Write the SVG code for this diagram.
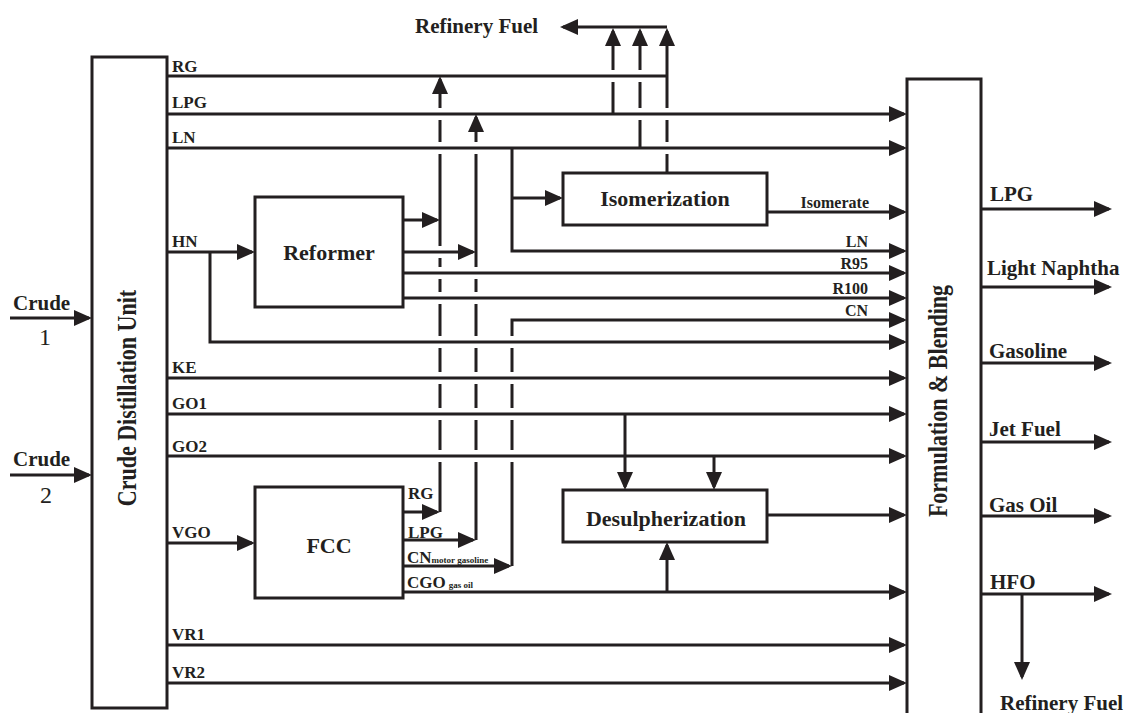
<svg xmlns="http://www.w3.org/2000/svg" width="1143" height="713" viewBox="0 0 1143 713">
<style>
.box{fill:#fff;stroke:#231f20;stroke-width:3}
.ln{fill:none;stroke:#231f20;stroke-width:3}
.a{marker-end:url(#ah)}
text{font-family:"Liberation Serif","Times New Roman",serif;font-weight:bold;fill:#231f20}
.nl{font-size:22px;text-anchor:middle}
.sl{font-size:17px}
.ol{font-size:21px}
.rl{font-size:16px;text-anchor:end}
.num{font-weight:normal;font-size:24px;text-anchor:middle}
</style>
<defs>
<marker id="ah" markerUnits="userSpaceOnUse" markerWidth="18" markerHeight="16" refX="15" refY="8" orient="auto">
<path d="M0,0 L18,8 L0,16 z" fill="#231f20"/>
</marker>
</defs>

<g id="connectors">
<path class="ln a" d="M10,318 H89"/>
<path class="ln a" d="M10,475 H89"/>
<path class="ln" d="M167,76 H667"/>
<path class="ln a" d="M167,114 H904"/>
<path class="ln a" d="M167,148 H904"/>
<path class="ln a" d="M167,252 H252"/>
<path class="ln a" d="M210,252 V342 H904"/>
<path class="ln a" d="M167,378 H904"/>
<path class="ln a" d="M167,414 H904"/>
<path class="ln a" d="M167,456 H904"/>
<path class="ln a" d="M167,543 H252"/>
<path class="ln a" d="M167,645 H904"/>
<path class="ln a" d="M167,683 H904"/>
<path class="ln a" d="M512,148 V251 H904"/>
<path class="ln a" d="M512,198 H560"/>
<path class="ln a" d="M767,212 H904"/>
<path class="ln a" d="M667,27 H563"/>
<path class="ln a" d="M613,114 V82 M613,70 V31"/>
<path class="ln a" d="M640,148 V120 M640,108 V82 M640,70 V31"/>
<path class="ln a" d="M667,173 V154 M667,142 V120 M667,108 V31"/>
<path class="ln a" d="M403,220 H437"/>
<path class="ln a" d="M403,252 H473"/>
<path class="ln a" d="M403,273 H904"/>
<path class="ln a" d="M403,298 H904"/>
<path class="ln a" d="M403,512 H437"/>
<path class="ln a" d="M403,540 H473"/>
<path class="ln a" d="M403,566 H509"/>
<path class="ln a" d="M403,592 H904"/>
<path class="ln a" d="M440,512 V462 M440,450 V420 M440,408 V384 M440,372 V348 M440,336 V304 M440,292 V279 M440,267 V258 M440,246 V154 M440,142 V120 M440,108 V79"/>
<path class="ln a" d="M476,540 V462 M476,450 V420 M476,408 V384 M476,372 V348 M476,336 V304 M476,292 V279 M476,267 V154 M476,142 V117"/>
<path class="ln a" d="M512,566 V462 M512,450 V420 M512,408 V384 M512,372 V348 M512,336 V320 H904"/>
<path class="ln a" d="M625,414 V487"/>
<path class="ln a" d="M714,456 V487"/>
<path class="ln a" d="M667,592 V545"/>
<path class="ln a" d="M767,515 H904"/>
<path class="ln a" d="M981,209 H1109"/>
<path class="ln a" d="M981,287 H1109"/>
<path class="ln a" d="M981,363 H1109"/>
<path class="ln a" d="M981,442 H1109"/>
<path class="ln a" d="M981,516 H1109"/>
<path class="ln a" d="M981,594 H1109"/>
<path class="ln a" d="M1022,594 V677"/>
</g>

<g id="cdu">
<rect class="box" x="92" y="57" width="75" height="651"/>
<text class="nl" transform="translate(136,398) rotate(-90) scale(1,1.25)" x="0" y="0" font-size="22.5">Crude Distillation Unit</text>
</g>
<g id="reformer">
<rect class="box" x="255" y="197" width="148" height="110"/>
<text class="nl" x="329" y="260">Reformer</text>
</g>
<g id="fcc">
<rect class="box" x="255" y="487" width="148" height="111"/>
<text class="nl" x="329" y="553">FCC</text>
</g>
<g id="isomerization">
<rect class="box" x="563" y="173" width="204" height="52"/>
<text class="nl" x="665" y="206">Isomerization</text>
</g>
<g id="desulpherization">
<rect class="box" x="563" y="490" width="204" height="52"/>
<text class="nl" x="666" y="526">Desulpherization</text>
</g>
<g id="formulation">
<rect class="box" x="907" y="79" width="74" height="640"/>
<text class="nl" transform="translate(947,401) rotate(-90) scale(1,1.25)" x="0" y="0" font-size="22.5">Formulation &amp; Blending</text>
</g>

<g id="labels">
<text class="ol" x="415" y="33">Refinery Fuel</text>
<text class="ol" x="13" y="310">Crude</text>
<text class="num" x="45" y="345">1</text>
<text class="ol" x="13" y="466">Crude</text>
<text class="num" x="46" y="503">2</text>
<text class="sl" x="172" y="72">RG</text>
<text class="sl" x="172" y="108">LPG</text>
<text class="sl" x="172" y="143">LN</text>
<text class="sl" x="172" y="247">HN</text>
<text class="sl" x="172" y="373">KE</text>
<text class="sl" x="172" y="409">GO1</text>
<text class="sl" x="172" y="452">GO2</text>
<text class="sl" x="172" y="538">VGO</text>
<text class="sl" x="172" y="640">VR1</text>
<text class="sl" x="172" y="678">VR2</text>
<text class="sl" x="408" y="499">RG</text>
<text class="sl" x="408" y="538">LPG</text>
<text class="sl" x="407" y="563">CN<tspan font-size="9">motor gasoline</tspan></text>
<text class="sl" x="407" y="588">CGO<tspan font-size="9" dx="3">gas oil</tspan></text>
<text class="rl" x="869" y="208" font-size="15">Isomerate</text>
<text class="rl" x="868" y="247">LN</text>
<text class="rl" x="868" y="269">R95</text>
<text class="rl" x="868" y="294">R100</text>
<text class="rl" x="868" y="316">CN</text>
<text class="ol" x="990" y="201">LPG</text>
<text class="ol" x="987" y="275">Light Naphtha</text>
<text class="ol" x="989" y="358">Gasoline</text>
<text class="ol" x="989" y="436">Jet Fuel</text>
<text class="ol" x="989" y="512">Gas Oil</text>
<text class="ol" x="990" y="589">HFO</text>
<text class="ol" x="1000" y="710">Refinery Fuel</text>
</g>
</svg>
